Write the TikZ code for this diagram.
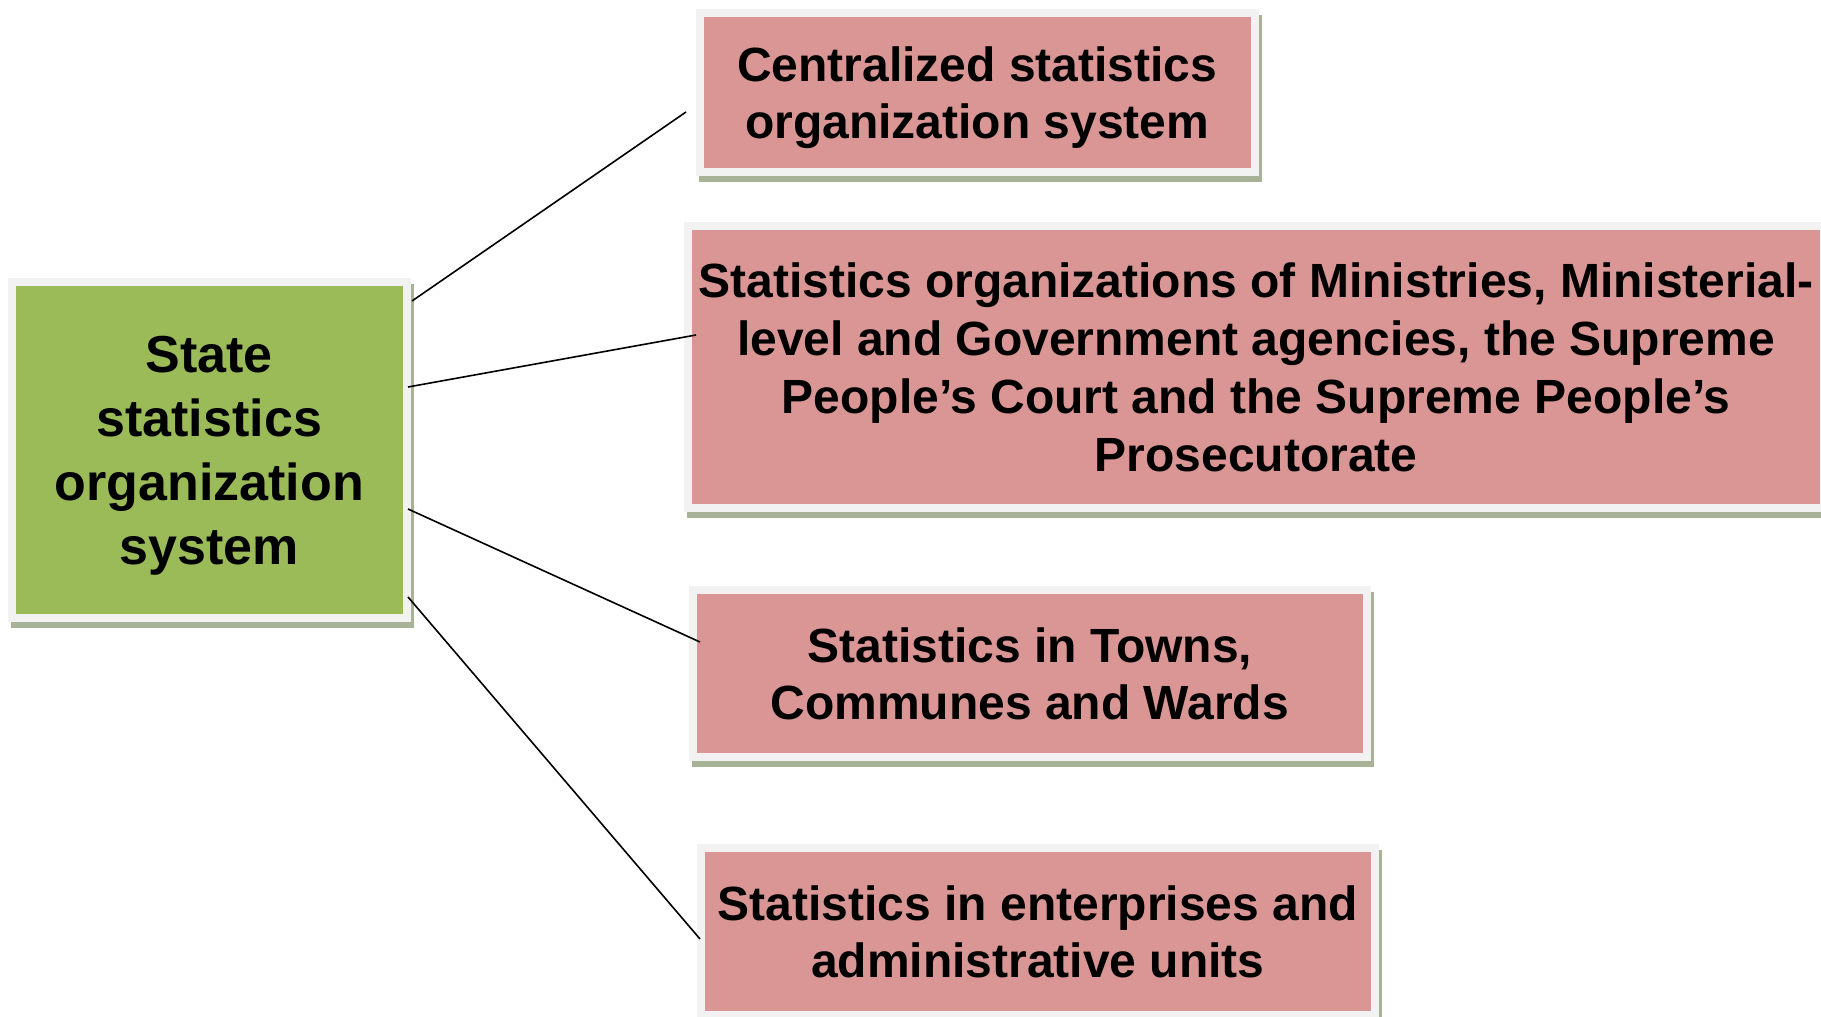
\documentclass[tikz,border=0pt]{standalone}
\usepackage{fontspec}
\setmainfont{Liberation Sans}
\definecolor{greenfill}{RGB}{155,187,89}
\definecolor{pinkfill}{RGB}{217,150,148}
\definecolor{rimgray}{RGB}{242,242,242}
\definecolor{shadowc}{RGB}{168,178,150}
\tikzset{
  panel/.style={draw=rimgray, line width=8pt, inner sep=0pt, outer sep=0pt,
    align=center, anchor=center, text depth=0pt,
    preaction={fill=shadowc, draw=shadowc, line width=8pt,
      transform canvas={xshift=3pt,yshift=-6pt}}},
  greenpanel/.style={panel, fill=greenfill, font=\fontsize{52}{64}\selectfont\bfseries},
  pinkpanel/.style={panel, fill=pinkfill, font=\fontsize{48}{57}\selectfont\bfseries},
  link/.style={draw=black, line width=1.6pt}
}
\begin{document}
\begin{tikzpicture}[x=1pt,y=-1pt]
\useasboundingbox (0,0) rectangle (1821,1017);
\clip (0,0) rectangle (1821,1017);
\fill[white] (0,0) rectangle (1821,1017);

\node[greenpanel, minimum width=394.5pt, minimum height=336pt] (root) at (209.25,450)
  {State\\statistics\\organization\\system};

\node[pinkpanel, minimum width=554.5pt, minimum height=158.5pt] (central) at (977.25,92.25)
  {Centralized statistics\\organization system};

\node[pinkpanel, minimum width=1136pt, minimum height=282pt, font=\fontsize{48}{58}\selectfont\bfseries] (ministry) at (1256,367)
  {Statistics organizations of Ministries, Ministerial-\\level and Government agencies, the Supreme\\People’s Court and the Supreme People’s\\Prosecutorate};

\node[pinkpanel, minimum width=673.5pt, minimum height=166.5pt] (towns) at (1029.75,673.25)
  {Statistics in Towns,\\Communes and Wards};

\node[pinkpanel, minimum width=673.5pt, minimum height=166.5pt] (enterprise) at (1037.75,931.25)
  {Statistics in enterprises and\\administrative units};

\coordinate (r1) at (412,301);
\coordinate (r2) at (408,387);
\coordinate (r3) at (408,509);
\coordinate (r4) at (408,597);
\coordinate (e1) at (686,112);
\coordinate (e2) at (696,335);
\coordinate (e3) at (700,642);
\coordinate (e4) at (700,939);

\draw[link] (r1) -- (e1);
\draw[link] (r2) -- (e2);
\draw[link] (r3) -- (e3);
\draw[link] (r4) -- (e4);
\end{tikzpicture}
\end{document}
